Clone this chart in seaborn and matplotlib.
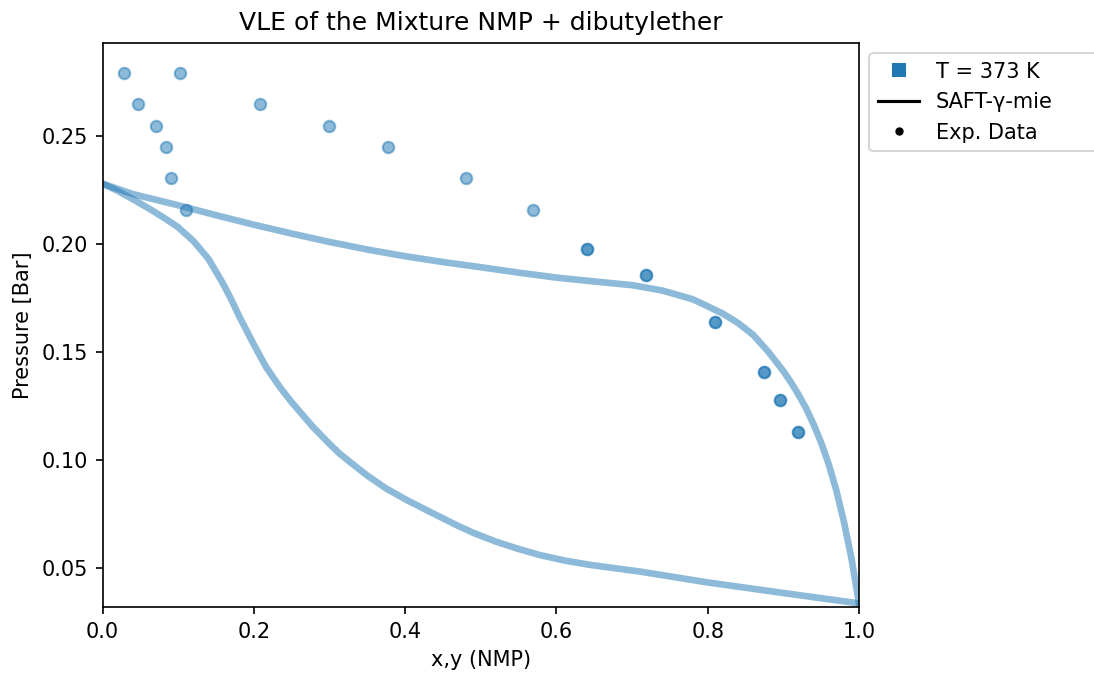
import numpy as np
import pandas as pd
import matplotlib
matplotlib.use("Agg")
import matplotlib.pyplot as plt
from matplotlib.lines import Line2D
import seaborn as sns

# SAFT-gamma-Mie model curves
bubble_x = [0.00, 0.04, 0.10, 0.15, 0.20, 0.25, 0.30, 0.35, 0.40, 0.45, 0.50,
            0.55, 0.60, 0.65, 0.70, 0.74, 0.78, 0.80, 0.82, 0.84, 0.86, 0.88,
            0.90, 0.91, 0.92, 0.93, 0.94, 0.95, 0.96, 0.97, 0.98, 0.99, 1.00]
bubble_P = [0.2280, 0.2232, 0.2180, 0.2134, 0.2090, 0.2049, 0.2010, 0.1975,
            0.1944, 0.1917, 0.1893, 0.1868, 0.1845, 0.1827, 0.1810, 0.1785,
            0.1745, 0.1712, 0.1678, 0.1635, 0.1580, 0.1502, 0.1412, 0.1360,
            0.1303, 0.1240, 0.1165, 0.1080, 0.0980, 0.0860, 0.0715, 0.0545,
            0.0336]

dew_y = [0.00, 0.02, 0.04, 0.06, 0.084, 0.10, 0.12, 0.14, 0.159, 0.17, 0.181,
         0.20, 0.216, 0.235, 0.25, 0.278, 0.30, 0.313, 0.33, 0.35, 0.375,
         0.402, 0.43, 0.45, 0.47, 0.49, 0.52, 0.55, 0.578, 0.61, 0.645,
         0.711, 0.80, 0.90, 1.00]
dew_P = [0.2280, 0.2247, 0.2208, 0.2168, 0.2116, 0.2078, 0.2015, 0.1932,
         0.1819, 0.1745, 0.1664, 0.1535, 0.1432, 0.1335, 0.1268, 0.1154,
         0.1075, 0.1031, 0.0983, 0.0928, 0.0868, 0.0815, 0.0765, 0.0730,
         0.0695, 0.0663, 0.0622, 0.0588, 0.0560, 0.0535, 0.0514, 0.0483,
         0.0433, 0.0384, 0.0336]

# Experimental data
exp_P = [0.2792, 0.2651, 0.2549, 0.2451, 0.2307, 0.2159, 0.1978, 0.1858,
         0.1640, 0.1408, 0.1278, 0.1130]
exp_x = [0.029, 0.047, 0.071, 0.084, 0.090, 0.111, 0.641, 0.719, 0.810,
         0.874, 0.895, 0.919]
exp_y = [0.102, 0.208, 0.299, 0.377, 0.480, 0.569, 0.641, 0.719, 0.810,
         0.874, 0.895, 0.919]

color = "tab:blue"

W, H = 1094, 675
dpi = 150
fig = plt.figure(figsize=(W / dpi, H / dpi), dpi=dpi)
ax = fig.add_axes([102.5 / W, (H - 607) / H, 756.5 / W, 564 / H])

curves = pd.DataFrame({"comp": bubble_x + dew_y,
                       "P": bubble_P + dew_P,
                       "branch": ["bubble"] * len(bubble_x) + ["dew"] * len(dew_y)})
for br, sub in curves.groupby("branch"):
    sns.lineplot(data=sub, x="comp", y="P", sort=False, ax=ax, color=color,
                 alpha=0.5, linewidth=3.2, estimator=None, legend=False)

exp = pd.DataFrame({"comp": exp_x + exp_y, "P": exp_P + exp_P})
sns.scatterplot(data=exp, x="comp", y="P", ax=ax, color=color, alpha=0.5,
                s=30, edgecolor=color, linewidth=1.0, legend=False)

allP = bubble_P + dew_P + exp_P
ax.set_xlim(0, 1.0)
ax.set_ylim(0.95 * min(allP), 1.05 * max(allP))
ax.set_xticks([0.0, 0.2, 0.4, 0.6, 0.8, 1.0])
ax.set_yticks([0.05, 0.10, 0.15, 0.20, 0.25])
ax.set_xlabel("x,y (NMP)")
ax.set_ylabel("Pressure [Bar]")
ax.set_title("VLE of the Mixture NMP + dibutylether")

handles = [
    Line2D([], [], color=color, marker="s", linestyle="None", markersize=6),
    Line2D([], [], color="black", linewidth=1.5),
    Line2D([], [], color="black", marker="o", linestyle="None", markersize=3),
]
labels = ["T = 373 K", "SAFT-γ-mie", "Exp. Data"]
ax.legend(handles, labels, loc="upper left", bbox_to_anchor=(1.0, 0.0, 0.34, 1.0),
          mode="expand")

fig.savefig("out.png", dpi=dpi)
